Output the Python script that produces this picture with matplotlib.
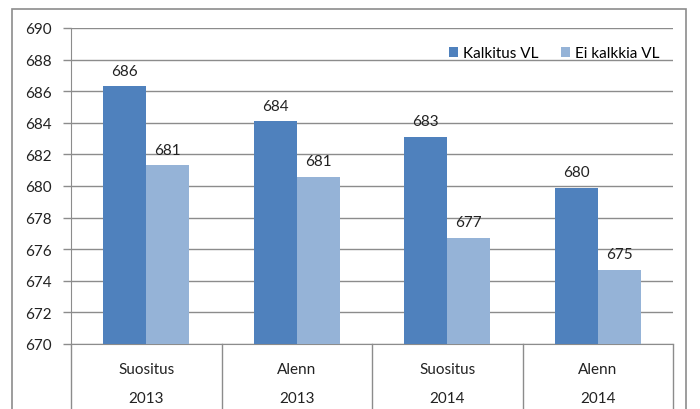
import numpy as np
import matplotlib.pyplot as plt
from matplotlib.patches import Rectangle
import matplotlib.transforms as mtransforms

plt.rcParams["font.family"] = ["Lato", "DejaVu Sans"]

# Data
groups = ["Suositus", "Alenn", "Suositus", "Alenn"]
years = ["2013", "2013", "2014", "2014"]
series_names = ["Kalkitus VL", "Ei kalkkia VL"]
kalkitus = [686.3, 684.1, 683.1, 679.9]
ei_kalkkia = [681.3, 680.6, 676.7, 674.7]

colors = ["#4F81BD", "#95B3D7"]
grid_col = "#8C8C8C"

fig = plt.figure(figsize=(7, 4.1), dpi=100)
ax = fig.add_axes([71 / 700, 65 / 410, 602 / 700, 316 / 410])

x = np.arange(len(groups))
w = 0.286
ax.bar(x - w / 2, np.array(kalkitus) - 670, w, bottom=670, color=colors[0],
       label=series_names[0], zorder=3)
ax.bar(x + w / 2, np.array(ei_kalkkia) - 670, w, bottom=670, color=colors[1],
       label=series_names[1], zorder=3)

# value labels
for xs, vals in [(x - w / 2, kalkitus), (x + w / 2, ei_kalkkia)]:
    for xi, v in zip(xs, vals):
        ax.text(xi, v + 0.55, f"{round(v):d}", ha="center", va="bottom",
                fontsize=11, color="#222222", zorder=4)

ax.set_xlim(-0.5, len(groups) - 0.5)
ax.set_ylim(670, 690)
ax.set_yticks(np.arange(670, 691, 2))
ax.yaxis.grid(True, color=grid_col, linewidth=1.0, zorder=0)
ax.set_xticks([])
ax.tick_params(axis="y", length=6, width=1, color=grid_col, labelsize=11,
               labelcolor="#222222", pad=8)

for s in ["top", "right"]:
    ax.spines[s].set_visible(False)
ax.spines["left"].set_color(grid_col)
ax.spines["bottom"].set_color(grid_col)

# two-level category axis
trans = mtransforms.blended_transform_factory(ax.transData, ax.transAxes)
for xb in np.arange(-0.5, len(groups), 1.0):
    ax.plot([xb, xb], [0, -0.3], transform=trans, color=grid_col,
            linewidth=1.0, clip_on=False)
for xi, g, yr in zip(x, groups, years):
    ax.text(xi, -0.08, g, transform=trans, ha="center", va="center",
            fontsize=11, color="#222222")
    ax.text(xi, -0.172, yr, transform=trans, ha="center", va="center",
            fontsize=11, color="#222222")

ax.legend(loc="upper right", bbox_to_anchor=(1.0, 0.985), ncol=2,
          frameon=False, fontsize=11, handlelength=0.6, handleheight=0.6,
          handletextpad=0.3, columnspacing=1.5)

# outer chart frame
fig.patches.append(Rectangle((12 / 700, -0.1), 674 / 700, 1.1 - 10 / 410,
                             transform=fig.transFigure, fill=False,
                             edgecolor="#8C8C8C", linewidth=1.2))

fig.savefig("out.png", dpi=100)
